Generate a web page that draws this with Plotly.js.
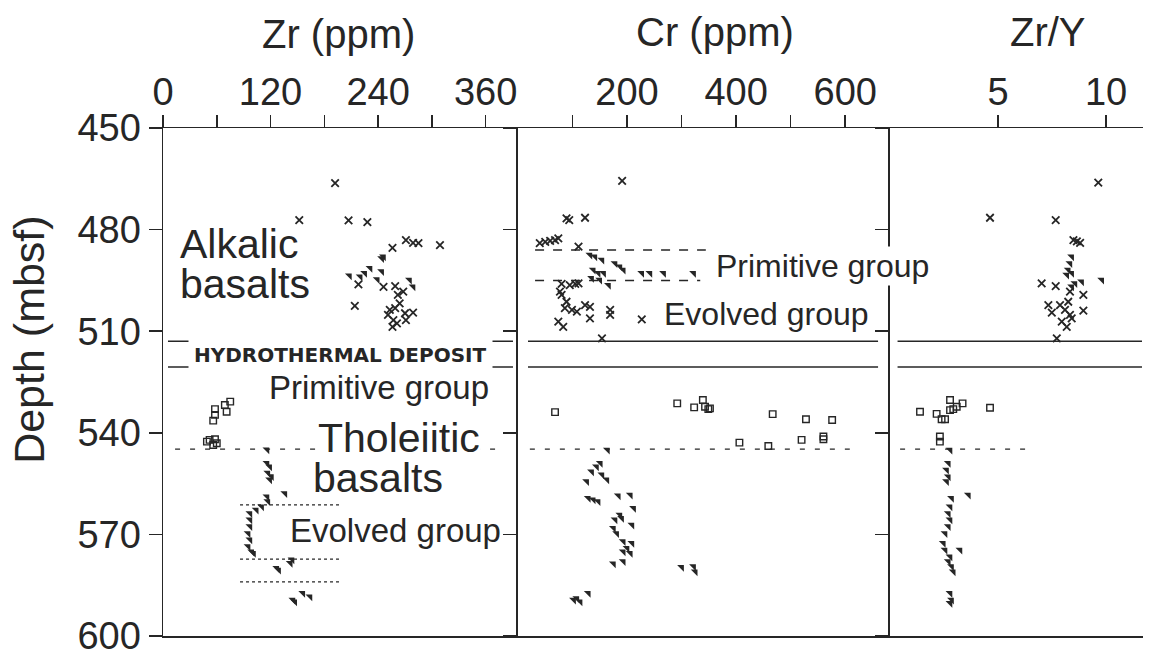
<!DOCTYPE html>
<html>
<head>
<meta charset="utf-8">
<script src="https://cdn.plot.ly/plotly-3.0.1.min.js"></script>
<style>
  html, body { margin: 0; padding: 0; background: #fff; }
  #chart { width: 1153px; height: 651px; }
</style>
</head>
<body>
<div id="chart"></div>
<script>
// ---- Zr (ppm) ----
const zrCrossDepth = [466.3, 477.2, 477.3, 477.8, 483.1, 483.9, 484.0, 484.6, 485.4, 496.2, 496.9, 496.7, 498.3, 499.3, 502.5, 501.8, 503.7, 503.2, 505.2, 504.7, 504.5, 506.7, 506.7, 508.7, 507.7];
const zrCrossValue = [192, 152, 207, 228, 271, 279, 285, 309, 256, 218, 246, 259, 268, 262, 214, 264, 253, 259, 251, 270, 279, 271, 257, 256, 261];
const zrAlkTriDepth = [488.5, 488.0, 493.6, 493.9, 492.9, 491.4, 494.7, 492.4, 494.9, 496.9];
const zrAlkTriValue = [244, 246, 208, 220, 225, 231, 239, 244, 275, 279];
const zrSquareDepth = [530.8, 531.8, 533.0, 533.8, 534.7, 536.4, 542.1, 542.6, 541.9, 543.6, 543.1];
const zrSquareValue = [75, 69, 58, 71, 58, 56, 52, 49, 58, 56, 60];
const zrTholTriDepth = [545.0, 549.0, 550.0, 551.9, 552.9, 553.9, 557.9, 558.9, 560.3, 561.8, 562.8, 563.8, 565.7, 567.7, 569.7, 571.6, 573.6, 575.1, 575.6, 580.0, 580.5, 578.5, 577.5, 589.4, 589.9, 587.4, 588.4];
const zrTholTriValue = [116, 116, 119, 117, 121, 119, 136, 116, 117, 110, 104, 97, 97, 97, 95, 97, 95, 99, 101, 127, 129, 142, 144, 145, 147, 156, 164];

// ---- Cr (ppm) ----
const crCrossDepth = [465.6, 476.7, 477.2, 476.5, 484.0, 483.6, 483.3, 483.1, 482.6, 485.0, 496.0, 496.4, 496.0, 495.9, 498.3, 499.3, 501.3, 503.2, 503.7, 504.2, 502.3, 502.8, 503.7, 505.2, 506.2, 506.5, 507.2, 508.7, 512.1];
const crCrossValue = [191, 89, 94, 123, 40, 50, 59, 68, 74, 111, 80, 95, 105, 111, 77, 80, 89, 86, 99, 108, 123, 132, 169, 169, 132, 227, 74, 83, 154];
const crAlkTriDepth = [487.5, 488.0, 489.0, 490.0, 491.0, 491.9, 491.9, 492.9, 492.9, 492.9, 492.9, 492.9, 492.9, 494.4, 494.9, 496.4];
const crAlkTriValue = [132, 141, 154, 178, 187, 193, 138, 147, 157, 227, 242, 267, 322, 135, 150, 166];
const crSquareDepth = [533.9, 531.3, 532.5, 530.3, 532.3, 533.0, 532.8, 534.5, 536.0, 536.2, 542.9, 543.9, 542.1, 541.1, 541.9];
const crSquareValue = [68, 292, 323, 339, 343, 349, 352, 467, 528, 576, 406, 459, 520, 560, 560];
const crTholTriDepth = [545.1, 549.0, 550.0, 551.5, 552.4, 553.9, 554.4, 559.3, 559.8, 560.3, 558.6, 558.4, 562.3, 564.3, 565.7, 565.2, 567.2, 568.2, 569.7, 572.1, 572.6, 574.1, 575.6, 575.1, 578.7, 578.0, 579.7, 579.5, 581.0, 588.9, 589.4, 589.9, 587.4];
const crTholTriValue = [164, 151, 144, 135, 154, 163, 126, 129, 138, 147, 184, 206, 212, 187, 178, 190, 209, 175, 181, 193, 209, 200, 206, 193, 175, 193, 300, 322, 325, 108, 102, 114, 129];

// ---- Zr/Y ----
const zyCrossDepth = [466.1, 476.5, 477.2, 483.1, 483.9, 483.5, 495.9, 496.7, 498.3, 499.3, 502.3, 504.5, 502.3, 503.7, 501.3, 503.9, 506.2, 507.2, 508.7, 505.2, 512.1];
const zyCrossValue = [9.64, 4.63, 7.67, 8.49, 8.80, 8.65, 7.02, 7.67, 8.33, 8.95, 7.33, 7.49, 7.87, 8.10, 8.25, 8.95, 8.41, 7.95, 8.18, 8.33, 7.72];
const zyAlkTriDepth = [488.0, 490.0, 491.9, 492.9, 493.4, 494.9, 495.4, 495.9, 496.9];
const zyAlkTriValue = [8.41, 8.33, 8.25, 8.41, 8.18, 9.80, 8.87, 8.56, 8.41];
const zySquareDepth = [533.8, 530.3, 532.3, 531.3, 533.3, 533.0, 532.6, 534.4, 536.0, 536.0, 541.1, 542.6];
const zySquareValue = [1.39, 2.78, 3.09, 3.36, 2.78, 2.93, 4.63, 2.16, 2.39, 2.55, 2.31, 2.31];
const zyTholTriDepth = [545.1, 549.0, 551.0, 553.0, 554.4, 558.4, 559.3, 561.8, 563.8, 565.7, 567.7, 569.7, 572.6, 574.6, 574.6, 576.6, 578.0, 579.5, 581.0, 587.4, 589.4, 590.3];
const zyTholTriValue = [2.78, 2.70, 2.62, 2.70, 2.62, 3.63, 2.85, 2.78, 2.70, 2.78, 2.70, 2.55, 2.47, 2.55, 3.24, 2.78, 2.70, 2.85, 2.93, 2.78, 2.85, 2.78];

// ---- axes ----
const depthTicks = [450, 480, 510, 540, 570, 600];
const zrTicks = [0, 60, 120, 180, 240, 300, 360];
const zrTickText = ['0', '', '120', '', '240', '', '360'];
const crTicks = [100, 200, 300, 400, 500, 600];
const crTickText = ['', '200', '', '400', '', '600'];
const zyTicks = [5, 10];
const zyTickText = ['5', '10'];

// ---- unit boundaries (mbsf) ----
const alkPrimitiveTop = 486;
const alkPrimitiveBase = 495;
const hydroTop = 513;
const hydroBase = 520.6;
const tholBoundary = 544.8;
const tholEvolvedBreaks = [561.3, 577.3, 584];

const INK = '#262626';
const FONT = 'Liberation Sans, Arial, Helvetica, sans-serif';

const crossMarker = { symbol: 'x-thin', size: 7.5, color: INK, line: { width: 1.8, color: INK } };
const triMarker = { symbol: 'triangle-ne', size: 7.5, color: INK, line: { width: 0 } };
const squareMarker = { symbol: 'square-open', size: 6.5, color: INK, line: { width: 1.4 } };

function pts(x, y, n, marker) {
  const suffix = n === 1 ? '' : String(n);
  return { type: 'scatter', mode: 'markers', x: x, y: y, xaxis: 'x' + suffix, yaxis: 'y' + suffix,
           marker: marker, showlegend: false, hoverinfo: 'x+y', cliponaxis: false };
}

const data = [
  pts(zrCrossValue, zrCrossDepth, 1, crossMarker),
  pts(zrAlkTriValue, zrAlkTriDepth, 1, triMarker),
  pts(zrSquareValue, zrSquareDepth, 1, squareMarker),
  pts(zrTholTriValue, zrTholTriDepth, 1, triMarker),
  pts(crCrossValue, crCrossDepth, 2, crossMarker),
  pts(crAlkTriValue, crAlkTriDepth, 2, triMarker),
  pts(crSquareValue, crSquareDepth, 2, squareMarker),
  pts(crTholTriValue, crTholTriDepth, 2, triMarker),
  pts(zyCrossValue, zyCrossDepth, 3, crossMarker),
  pts(zyAlkTriValue, zyAlkTriDepth, 3, triMarker),
  pts(zySquareValue, zySquareDepth, 3, squareMarker),
  pts(zyTholTriValue, zyTholTriDepth, 3, triMarker)
];

function xAxis(domain, range, vals, text) {
  return {
    domain: domain, range: range, side: 'top', anchor: 'y',
    tickmode: 'array', tickvals: vals, ticktext: text,
    ticks: 'outside', ticklen: 12, tickwidth: 1.5, tickcolor: INK,
    ticklabelstandoff: -6,
    showline: true, linewidth: 1.5, linecolor: INK, mirror: true,
    showgrid: false, zeroline: false, fixedrange: true,
    tickfont: { family: FONT, size: 38, color: INK }
  };
}
function yAxis(anchor, labels) {
  return {
    domain: [0, 1], range: [600, 450], anchor: anchor,
    tickmode: 'array', tickvals: depthTicks,
    ticks: 'outside', ticklen: 13, tickwidth: 1.5, tickcolor: INK,
    ticklabeloverflow: 'allow',
    showline: true, linewidth: 1.5, linecolor: INK,
    showgrid: false, zeroline: false, fixedrange: true,
    showticklabels: labels,
    tickfont: { family: FONT, size: 38, color: INK }
  };
}

function hline(xref, yref, depth, x0, x1, dash, width) {
  return { type: 'line', xref: xref + ' domain', yref: yref, x0: x0, x1: x1, y0: depth, y1: depth,
           line: { color: INK, width: width, dash: dash } };
}

const shapes = [
  // hydrothermal deposit
  hline('x', 'y', hydroTop, 0.014, 0.986, 'solid', 1.5),
  hline('x', 'y', hydroBase, 0.014, 0.986, 'solid', 1.5),
  hline('x2', 'y2', hydroTop, 0.027, 0.968, 'solid', 1.5),
  hline('x2', 'y2', hydroBase, 0.027, 0.968, 'solid', 1.5),
  hline('x3', 'y3', hydroTop, 0.03, 0.996, 'solid', 1.5),
  hline('x3', 'y3', hydroBase, 0.03, 0.996, 'solid', 1.5),
  // alkalic primitive group
  hline('x2', 'y2', alkPrimitiveTop, 0.046, 0.505, 'dash', 1.5),
  hline('x2', 'y2', alkPrimitiveBase, 0.046, 0.49, 'dash', 1.5),
  // tholeiitic primitive / evolved
  hline('x', 'y', tholBoundary, 0.034, 0.963, '5px,10px', 1.3),
  hline('x2', 'y2', tholBoundary, 0.032, 0.892, '5px,10px', 1.3),
  hline('x3', 'y3', tholBoundary, 0.04, 0.54, '5px,10px', 1.3)
].concat(tholEvolvedBreaks.map(d => hline('x', 'y', d, 0.217, 0.504, 'dot', 1.2)));

function label(text, xref, x, y, size, opts) {
  return Object.assign({
    text: text, xref: xref, yref: 'y', x: x, y: y, showarrow: false,
    xanchor: 'left', yanchor: 'middle',
    font: { family: FONT, size: size, color: INK }
  }, opts || {});
}

const annotations = [
  // column titles
  { text: 'Zr (ppm)', xref: 'paper', yref: 'paper', x: 0.1786, y: 1.186, showarrow: false,
    xanchor: 'center', yanchor: 'middle', font: { family: FONT, size: 40, color: INK } },
  { text: 'Cr (ppm)', xref: 'paper', yref: 'paper', x: 0.5633, y: 1.188, showarrow: false,
    xanchor: 'center', yanchor: 'middle', font: { family: FONT, size: 40, color: INK } },
  { text: 'Zr/Y', xref: 'paper', yref: 'paper', x: 0.903, y: 1.188, showarrow: false,
    xanchor: 'center', yanchor: 'middle', font: { family: FONT, size: 40, color: INK } },
  { text: 'Depth (mbsf)', xref: 'paper', yref: 'paper', x: -0.1367, y: 0.583, showarrow: false,
    textangle: -90, xanchor: 'center', yanchor: 'middle', font: { family: FONT, size: 43, color: INK } },
  // unit labels
  label('Alkalic', 'x', 17, 484.2, 41),
  label('basalts', 'x', 16.5, 496.2, 41),
  label('<b>HYDROTHERMAL DEPOSIT</b>', 'x', 198.4, 517.0, 20,
        { xanchor: 'center', bgcolor: '#fff', borderpad: 5,
          font: { family: 'DejaVu Sans, sans-serif', size: 20, color: INK } }),
  label('Primitive group', 'x', 241, 526.6, 33, { xanchor: 'center' }),
  label('Tholeiitic', 'x', 172, 541.4, 41, { bgcolor: '#fff', borderpad: 0 }),
  label('basalts', 'x', 165, 553.4, 41),
  label('Evolved group', 'x', 140, 568.7, 33),
  label('Primitive group', 'x2', 359, 490.6, 32, { bgcolor: '#fff', borderpad: 1 }),
  label('Evolved group', 'x2', 264, 504.9, 32)
];

const layout = {
  width: 1153, height: 651,
  margin: { l: 163, r: 10, t: 128, b: 15 },
  paper_bgcolor: '#fff', plot_bgcolor: '#fff',
  showlegend: false,
  xaxis: xAxis([0, 0.3622], [0, 396], zrTicks, zrTickText),
  xaxis2: Object.assign(xAxis([0.3622, 0.7418], [0, 682], crTicks, crTickText), { anchor: 'y2' }),
  xaxis3: Object.assign(xAxis([0.7418, 1], [0, 11.71], zyTicks, zyTickText), { anchor: 'y3' }),
  yaxis: yAxis('x', true),
  yaxis2: yAxis('x2', false),
  yaxis3: yAxis('x3', false),
  shapes: shapes,
  annotations: annotations
};

Plotly.newPlot('chart', data, layout, { displayModeBar: false, staticPlot: true });
</script>
</body>
</html>
